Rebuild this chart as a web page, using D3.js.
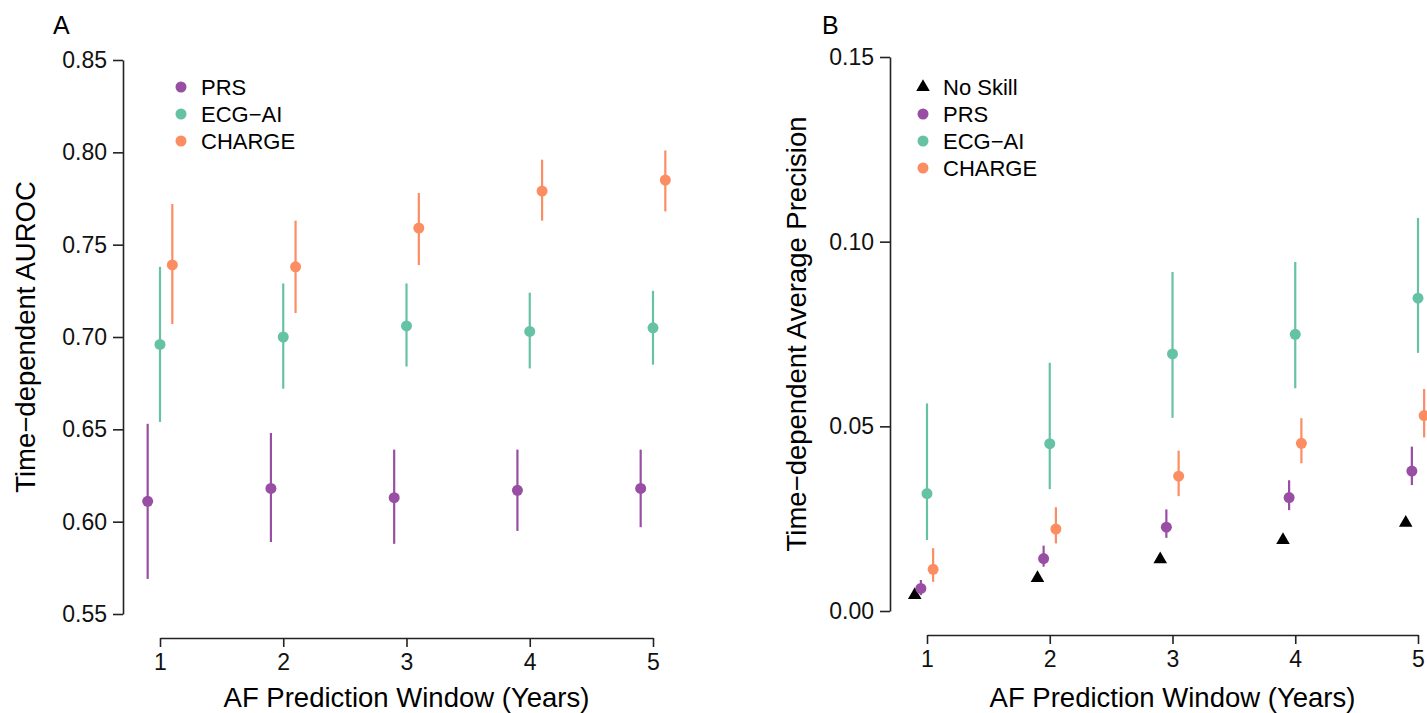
<!DOCTYPE html>
<html>
<head>
<meta charset="utf-8">
<script src="https://cdn.jsdelivr.net/npm/d3@7"></script>
<style>
  body { margin: 0; background: #fff; }
  svg { display: block; font-family: "Liberation Sans", Arial, Helvetica, sans-serif; }
  .axis path, .axis line { stroke: #222; stroke-width: 1.6; }
  .axis text { font-size: 23px; fill: #111; font-family: "Liberation Sans", Arial, sans-serif; }
</style>
</head>
<body>
<div id="chart"></div>
<script>
// Prediction window (years)
const years = [1, 2, 3, 4, 5];

// Panel A: time-dependent AUROC (point, lower, upper)
const prsAuc = [0.611, 0.618, 0.613, 0.617, 0.618];
const prsAucLo = [0.569, 0.589, 0.588, 0.595, 0.597];
const prsAucHi = [0.653, 0.648, 0.639, 0.639, 0.639];
const ecgAuc = [0.696, 0.700, 0.706, 0.703, 0.705];
const ecgAucLo = [0.654, 0.672, 0.684, 0.683, 0.685];
const ecgAucHi = [0.738, 0.729, 0.729, 0.724, 0.725];
const chargeAuc = [0.739, 0.738, 0.759, 0.779, 0.785];
const chargeAucLo = [0.707, 0.713, 0.739, 0.763, 0.768];
const chargeAucHi = [0.772, 0.763, 0.778, 0.796, 0.801];

// Panel B: time-dependent average precision
const noSkillAp = [0.0043, 0.0089, 0.0140, 0.0192, 0.0239];
const prsAp = [0.0061, 0.0142, 0.0227, 0.0307, 0.0379];
const prsApLo = [0.0043, 0.0120, 0.0198, 0.0273, 0.0341];
const prsApHi = [0.0084, 0.0177, 0.0275, 0.0354, 0.0445];
const ecgAp = [0.0318, 0.0453, 0.0696, 0.0749, 0.0847];
const ecgApLo = [0.0192, 0.0330, 0.0523, 0.0603, 0.0699];
const ecgApHi = [0.0562, 0.0672, 0.0918, 0.0945, 0.1064];
const chargeAp = [0.0113, 0.0222, 0.0365, 0.0454, 0.0529];
const chargeApLo = [0.0079, 0.0183, 0.0311, 0.0400, 0.0470];
const chargeApHi = [0.0170, 0.0281, 0.0434, 0.0522, 0.0601];

const aucTicks = [0.55, 0.60, 0.65, 0.70, 0.75, 0.80, 0.85];
const apTicks = [0.00, 0.05, 0.10, 0.15];

const colors = { prs: "#984ea3", ecg: "#66c2a5", charge: "#fc8d62", noskill: "#000" };

const width = 1427, height = 713;
const svg = d3.select("#chart").append("svg")
    .attr("width", width)
    .attr("height", height);

function drawPanel(opts) {
    const x = d3.scaleLinear().domain([1, 5]).range(opts.xRange);
    const y = d3.scaleLinear().domain(opts.yDomain).range(opts.yRange);
    const g = svg.append("g");

    // y axis
    g.append("g")
        .attr("class", "axis")
        .attr("transform", `translate(${opts.yAxisX},0)`)
        .call(d3.axisLeft(y).tickValues(opts.yTicks).tickFormat(opts.yFormat).tickSize(10).tickSizeOuter(0).tickPadding(6));

    // x axis
    g.append("g")
        .attr("class", "axis")
        .attr("transform", `translate(0,${opts.xAxisY})`)
        .call(d3.axisBottom(x).tickValues(years).tickFormat(d3.format("d")).tickSize(9).tickSizeOuter(0).tickPadding(7));

    // series: error bars then points
    opts.series.forEach(s => {
        const rows = years.map((yr, i) => ({ yr, v: s.values[i], lo: s.lo ? s.lo[i] : null, hi: s.hi ? s.hi[i] : null }));
        const sg = g.append("g");
        if (s.lo) {
            sg.selectAll("line.err")
                .data(rows)
                .join("line")
                .attr("class", "err")
                .attr("x1", d => x(d.yr + s.offset))
                .attr("x2", d => x(d.yr + s.offset))
                .attr("y1", d => y(d.lo))
                .attr("y2", d => y(d.hi))
                .attr("stroke", s.color)
                .attr("stroke-width", 2.2);
        }
        if (s.shape === "triangle") {
            sg.selectAll("path.pt")
                .data(rows)
                .join("path")
                .attr("class", "pt")
                .attr("d", d3.symbol(d3.symbolTriangle, 80))
                .attr("transform", d => `translate(${x(d.yr + s.offset)},${y(d.v)})`)
                .attr("fill", s.color);
        } else {
            sg.selectAll("circle.pt")
                .data(rows)
                .join("circle")
                .attr("class", "pt")
                .attr("cx", d => x(d.yr + s.offset))
                .attr("cy", d => y(d.v))
                .attr("r", 5.5)
                .attr("fill", s.color);
        }
    });

    // legend
    const leg = g.append("g");
    opts.series.forEach((s, i) => {
        const cy = opts.legendY + i * 27;
        if (s.shape === "triangle") {
            leg.append("path")
                .attr("d", d3.symbol(d3.symbolTriangle, 80))
                .attr("transform", `translate(${opts.legendX},${cy})`)
                .attr("fill", s.color);
        } else {
            leg.append("circle")
                .attr("cx", opts.legendX).attr("cy", cy).attr("r", 5.5)
                .attr("fill", s.color);
        }
        leg.append("text")
            .attr("x", opts.legendX + 20)
            .attr("y", cy)
            .attr("dy", "0.36em")
            .style("font-size", "22px")
            .text(s.name);
    });

    // panel letter
    g.append("text")
        .attr("x", opts.letterX).attr("y", 34)
        .style("font-size", "25px")
        .text(opts.letter);

    // axis titles
    g.append("text")
        .attr("x", (opts.xRange[0] + opts.xRange[1]) / 2)
        .attr("y", 707)
        .attr("text-anchor", "middle")
        .style("font-size", "27.5px")
        .text("AF Prediction Window (Years)");

    g.append("text")
        .attr("transform", `translate(${opts.yTitleX},${(opts.yRange[0] + opts.yRange[1]) / 2}) rotate(-90)`)
        .attr("text-anchor", "middle")
        .style("font-size", "27.5px")
        .text(opts.yTitle);
}

drawPanel({
    letter: "A", letterX: 53,
    xRange: [160, 653], yRange: [614, 60], yDomain: [0.55, 0.85],
    yAxisX: 123, xAxisY: 638, yTicks: aucTicks, yFormat: d3.format(".2f"),
    yTitle: "Time\u2212dependent AUROC", yTitleX: 35,
    legendX: 181, legendY: 87,
    series: [
        { name: "PRS", values: prsAuc, lo: prsAucLo, hi: prsAucHi, color: colors.prs, offset: -0.1 },
        { name: "ECG\u2212AI", values: ecgAuc, lo: ecgAucLo, hi: ecgAucHi, color: colors.ecg, offset: 0 },
        { name: "CHARGE", values: chargeAuc, lo: chargeAucLo, hi: chargeAucHi, color: colors.charge, offset: 0.1 }
    ]
});

drawPanel({
    letter: "B", letterX: 822,
    xRange: [927, 1418], yRange: [611, 57], yDomain: [0, 0.15],
    yAxisX: 890, xAxisY: 635, yTicks: apTicks, yFormat: d3.format(".2f"),
    yTitle: "Time\u2212dependent Average Precision", yTitleX: 806,
    legendX: 923, legendY: 87,
    series: [
        { name: "No Skill", values: noSkillAp, color: colors.noskill, offset: -0.1, shape: "triangle" },
        { name: "PRS", values: prsAp, lo: prsApLo, hi: prsApHi, color: colors.prs, offset: -0.05 },
        { name: "ECG\u2212AI", values: ecgAp, lo: ecgApLo, hi: ecgApHi, color: colors.ecg, offset: 0 },
        { name: "CHARGE", values: chargeAp, lo: chargeApLo, hi: chargeApHi, color: colors.charge, offset: 0.05 }
    ]
});
</script>
</body>
</html>
